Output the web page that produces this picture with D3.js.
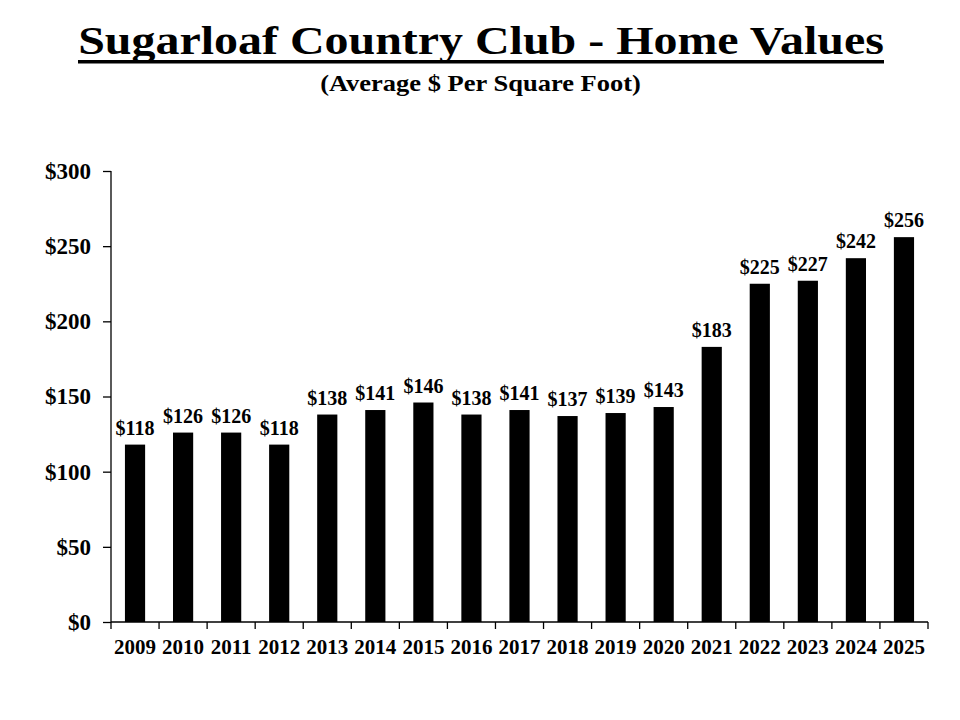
<!DOCTYPE html>
<html>
<head>
<meta charset="utf-8">
<script src="https://cdn.jsdelivr.net/npm/d3@7"></script>
<style>
  body { margin: 0; background: #fff; }
  text { font-family: "Liberation Serif", "Times New Roman", serif; font-weight: bold; }
</style>
</head>
<body>
<div id="chart"></div>
<script>
// chart data
let years = ["2009", "2010", "2011", "2012", "2013", "2014", "2015", "2016", "2017",
  "2018", "2019", "2020", "2021", "2022", "2023", "2024", "2025"];
let values = [118, 126, 126, 118, 138, 141, 146, 138, 141, 137, 139, 143, 183, 225, 227, 242, 256];
let yTicks = [0, 50, 100, 150, 200, 250, 300];

let width = 960, height = 720;
let margin = { top: 171, right: 32, bottom: 98, left: 111 };

let svg = d3.select("#chart")
  .append("svg")
  .attr("width", width)
  .attr("height", height);

// stretch a centred text horizontally to a given width (reference type is wide)
function wideText(str, cx, baseline, size, targetWidth) {
  let t = svg.append("text")
    .attr("text-anchor", "middle")
    .style("font-size", size + "px")
    .text(str);
  let w = t.node().getComputedTextLength();
  t.attr("transform", "translate(" + cx + "," + baseline + ") scale(" + (targetWidth / w) + ",1)");
  return t;
}

// title + subtitle
wideText("Sugarloaf Country Club - Home Values", 481, 54, 40, 806);
svg.append("rect")
  .attr("x", 78)
  .attr("y", 60)
  .attr("width", 806)
  .attr("height", 3.5)
  .attr("fill", "#000");
wideText("(Average $ Per Square Foot)", 480.5, 91, 23, 321);

let x = d3.scaleBand()
  .domain(years)
  .range([margin.left, width - margin.right])
  .paddingInner(0.58)
  .paddingOuter(0.29);

let y = d3.scaleLinear()
  .domain([0, 300])
  .range([height - margin.bottom, margin.top]);

// bars
svg.selectAll("rect.bar")
  .data(values)
  .enter()
  .append("rect")
  .attr("class", "bar")
  .attr("x", function(d, i) { return x(years[i]); })
  .attr("y", function(d) { return y(d); })
  .attr("width", x.bandwidth())
  .attr("height", function(d) { return y(0) - y(d); })
  .attr("fill", "#000");

// value labels
svg.selectAll("text.val")
  .data(values)
  .enter()
  .append("text")
  .attr("class", "val")
  .attr("x", function(d, i) { return x(years[i]) + x.bandwidth() / 2; })
  .attr("y", function(d) { return y(d) - 10; })
  .attr("text-anchor", "middle")
  .style("font-size", "20px")
  .text(function(d) { return "$" + d; });

// y axis
let yAxis = svg.append("g")
  .attr("transform", "translate(" + margin.left + ",0)")
  .call(d3.axisLeft(y).tickValues(yTicks).tickSize(8).tickPadding(12)
    .tickFormat(function(d) { return "$" + d; }));
yAxis.select(".domain").attr("stroke-width", 1.3).attr("d", "M0," + y(300) + "V" + y(0));
yAxis.selectAll(".tick line").attr("stroke-width", 1.3);
yAxis.selectAll(".tick text")
  .attr("fill", "#000")
  .style("font-size", "23px")
  .style("font-family", "Liberation Serif, serif");

// x axis with ticks on category boundaries
let xAxis = svg.append("g")
  .attr("transform", "translate(0," + y(0) + ")");
xAxis.append("line")
  .attr("x1", margin.left)
  .attr("x2", width - margin.right)
  .attr("stroke", "#000")
  .attr("stroke-width", 1.3);
let step = x.step();
xAxis.selectAll("line.tk")
  .data(d3.range(years.length + 1))
  .enter()
  .append("line")
  .attr("class", "tk")
  .attr("x1", function(i) { return margin.left + i * step; })
  .attr("x2", function(i) { return margin.left + i * step; })
  .attr("y1", 0)
  .attr("y2", 7)
  .attr("stroke", "#000")
  .attr("stroke-width", 1.3);
xAxis.selectAll("text.yr")
  .data(years)
  .enter()
  .append("text")
  .attr("class", "yr")
  .attr("x", function(d) { return x(d) + x.bandwidth() / 2; })
  .attr("y", 32)
  .attr("text-anchor", "middle")
  .style("font-size", "21px")
  .text(function(d) { return d; });
</script>
</body>
</html>
